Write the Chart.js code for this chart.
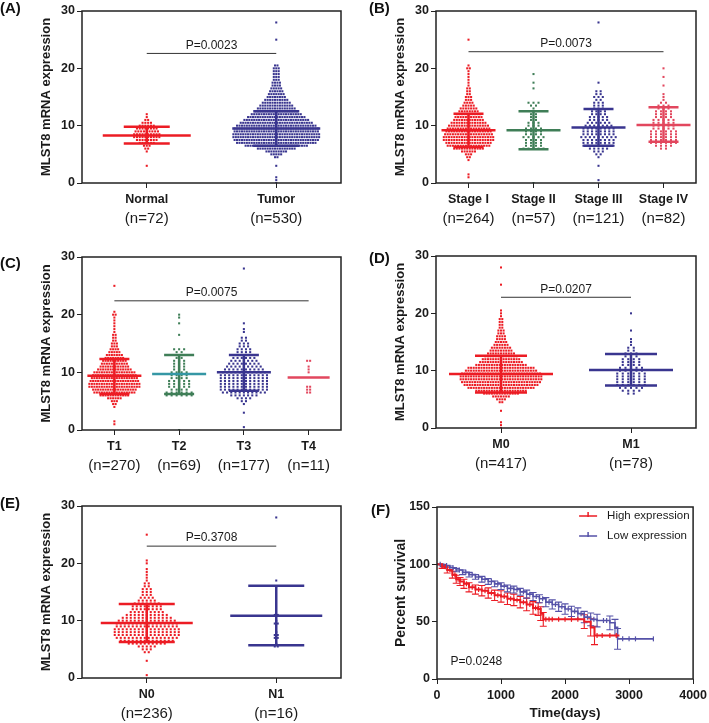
<!DOCTYPE html>
<html>
<head>
<meta charset="utf-8">
<script src="https://cdn.jsdelivr.net/npm/chart.js@4.4.1/dist/chart.umd.min.js"></script>
<style>
  body { margin: 0; background: #fff; }
  #fig { position: relative; width: 709px; height: 723px; overflow: hidden; background: #fff; }
  #fig canvas { position: absolute; }
  .tag { position: absolute; font: bold 15px "Liberation Sans", Arial, sans-serif; line-height: 1; color: #111; }
</style>
</head>
<body>
<div id="fig">
  <canvas id="chartA"></canvas>
  <canvas id="chartB"></canvas>
  <canvas id="chartC"></canvas>
  <canvas id="chartD"></canvas>
  <canvas id="chartE"></canvas>
  <canvas id="chartF"></canvas>
  <div class="tag" style="left:0px;top:0px">(A)</div>
  <div class="tag" style="left:369px;top:0px">(B)</div>
  <div class="tag" style="left:0px;top:255px">(C)</div>
  <div class="tag" style="left:369px;top:250px">(D)</div>
  <div class="tag" style="left:0px;top:495px">(E)</div>
  <div class="tag" style="left:371px;top:502px">(F)</div>
</div>
<script>
const yTitle = 'MLST8 mRNA expression';

// (A) normal vs tumor
const aGroups = ['Normal', 'Tumor'];
const aSizes = ['(n=72)', '(n=530)'];
const normalRows = [[3,1],[5.5,1],[6,2],[6.5,3],[7,6],[7.5,8],[8,10],[8.5,10],[9,9],[9.5,8],[10,6],[10.5,4],[11,2],[11.5,1],[12,1]];
const tumorRows = [[0,1],[0.5,1],[1,1],[3,1],[4.5,2],[5,5],[5.5,9],[6,16],[6.5,26],[7,33],[7.5,35],[8,36],[8.5,36],[9,35],[9.5,35],[10,33],[10.5,30],[11,27],[11.5,24],[12,21],[12.5,18],[13,16],[13.5,14],[14,12],[14.5,10],[15,8],[15.5,7],[16,6],[16.5,5],[17,4],[17.5,4],[18,3],[18.5,3],[19,3],[19.5,3],[20,3],[20.5,2],[25,1],[28,1]];
const aMean = [8.3, 9.5];
const aSdLow = [6.9, 6.5];
const aSdHigh = [9.8, 12.5];
const aP = 'P=0.0023';
const aBarY = 22.6;

// (B) stage
const bGroups = ['Stage I', 'Stage II', 'Stage III', 'Stage IV'];
const bSizes = ['(n=264)', '(n=57)', '(n=121)', '(n=82)'];
const stage1Rows = [[1,1],[1.5,1],[4,1],[4.5,2],[5,3],[5.5,6],[6,12],[6.5,17],[7,18],[7.5,20],[8,20],[8.5,19],[9,18],[9.5,17],[10,16],[10.5,14],[11,12],[11.5,11],[12,10],[12.5,8],[13,7],[13.5,5],[14,4],[14.5,3],[15,3],[15.5,2],[16,2],[16.5,2],[17,1],[17.5,1],[18,1],[18.5,1],[19,1],[19.5,1],[20,2],[20.5,1],[25,1]];
const stage2Rows = [[0,1],[6,5],[6.5,4],[7,4],[7.5,4],[8,5],[8.5,4],[9,4],[9.5,4],[10,3],[10.5,3],[11,2],[11.5,2],[12,2],[12.5,1],[13,1],[13.5,2],[14,3],[16.5,1],[17.5,1],[19,1]];
const stage3Rows = [[0.5,1],[3,1],[4.5,1],[5,2],[5.5,3],[6,5],[6.5,8],[7,8],[7.5,8],[8,9],[8.5,8],[9,8],[9.5,8],[10,7],[10.5,6],[11,5],[11.5,5],[12,4],[12.5,4],[13,3],[13.5,3],[14,3],[14.5,2],[15,3],[15.5,2],[16,2],[17.5,1],[28,1]];
const stage4Rows = [[6,2],[6.5,4],[7,6],[7.5,6],[8,6],[8.5,6],[9,6],[9.5,5],[10,5],[10.5,5],[11,5],[11.5,4],[12,4],[12.5,4],[13,3],[13.5,3],[14,2],[14.5,1],[15,1],[15.5,1],[17,1],[18.5,1],[20,1]];
const bMean = [9.2, 9.2, 9.7, 10.1];
const bSdLow = [6.3, 5.9, 6.5, 7.2];
const bSdHigh = [12.1, 12.5, 12.9, 13.2];
const bP = 'P=0.0073';
const bBarY = 22.9;

// (C) T stage
const cGroups = ['T1', 'T2', 'T3', 'T4'];
const cSizes = ['(n=270)', '(n=69)', '(n=177)', '(n=11)'];
const t1Rows = [[1,1],[1.5,1],[4,1],[4.5,2],[5,3],[5.5,6],[6,12],[6.5,17],[7,18],[7.5,21],[8,21],[8.5,20],[9,19],[9.5,18],[10,17],[10.5,14],[11,12],[11.5,11],[12,10],[12.5,8],[13,7],[13.5,5],[14,4],[14.5,3],[15,3],[15.5,2],[16,2],[16.5,2],[17,1],[17.5,1],[18,1],[18.5,1],[19,1],[19.5,1],[20,2],[20.5,1],[25,1]];
const t2Rows = [[0,1],[6,6],[6.5,6],[7,4],[7.5,5],[8,5],[8.5,5],[9,4],[9.5,4],[10,4],[10.5,3],[11,3],[11.5,3],[12,3],[12.5,2],[13,2],[13.5,2],[14,3],[16.5,1],[18.5,1],[19.5,1],[20,1]];
const t3Rows = [[0.5,1],[3,1],[4.5,1],[5,2],[5.5,4],[6,7],[6.5,11],[7,12],[7.5,12],[8,12],[8.5,12],[9,12],[9.5,12],[10,11],[10.5,10],[11,9],[11.5,8],[12,7],[12.5,6],[13,5],[13.5,4],[14,4],[14.5,3],[15,3],[15.5,2],[16,2],[17,1],[17.5,1],[18.5,1],[28,1]];
const t4Rows = [[6.5,2],[7,2],[7.5,2],[10,1],[10.5,1],[11,1],[12,2]];
const cMean = [9.4, 9.7, 10.0, 9.1];
const cSdLow = [6.25, 6.25, 6.8, null];
const cSdHigh = [12.3, 13.0, 13.0, null];
const cP = 'P=0.0075';
const cBarY = 22.4;

// (D) M stage
const dGroups = ['M0', 'M1'];
const dSizes = ['(n=417)', '(n=78)'];
const m0Rows = [[0,1],[0.5,1],[1,1],[3,1],[4.5,2],[5,4],[5.5,7],[6,14],[6.5,20],[7,26],[7.5,29],[8,31],[8.5,32],[9,32],[9.5,31],[10,28],[10.5,26],[11,20],[11.5,17],[12,15],[12.5,13],[13,11],[13.5,9],[14,8],[14.5,6],[15,5],[15.5,4],[16,4],[16.5,3],[17,3],[17.5,2],[18,2],[18.5,2],[19,2],[19.5,1],[20,1],[20.5,1],[25,1],[28,1]];
const m1Rows = [[6,2],[6.5,4],[7,5],[7.5,6],[8,6],[8.5,6],[9,6],[9.5,6],[10,5],[10.5,5],[11,4],[11.5,4],[12,4],[12.5,3],[13,3],[13.5,2],[14,2],[14.5,1],[15,1],[15.5,1],[17,1],[20,1]];
const dMean = [9.4, 10.1];
const dSdLow = [6.2, 7.4];
const dSdHigh = [12.6, 12.9];
const dP = 'P=0.0207';
const dBarY = 22.8;

// (E) N stage
const eGroups = ['N0', 'N1'];
const eSizes = ['(n=236)', '(n=16)'];
const n0Rows = [[0.5,1],[3,1],[4.5,2],[5,3],[5.5,5],[6,10],[6.5,14],[7,16],[7.5,17],[8,17],[8.5,17],[9,16],[9.5,16],[10,15],[10.5,13],[11,11],[11.5,9],[12,8],[12.5,8],[13,7],[13.5,5],[14,4],[14.5,3],[15,3],[15.5,3],[16,2],[16.5,2],[17,1],[17.5,1],[18,1],[18.5,1],[19,1],[20,1],[20.5,1],[25,1]];
const n1Rows = [[5.5,2],[6,1],[7,2],[7.5,2],[8,1],[9.5,2],[10,1],[11,2],[16,1],[17,1],[28,1]];
const eMean = [9.6, 10.85];
const eSdLow = [6.3, 5.7];
const eSdHigh = [12.9, 16.1];
const eP = 'P=0.3708';
const eBarY = 23.0;

// (F) Kaplan-Meier
const kmLabels = ['High expression', 'Low expression'];
const highTime = [0, 80, 160, 240, 300, 360, 420, 500, 600, 700, 800, 900, 1000, 1100, 1200, 1300, 1400, 1500, 1580, 1620, 1660, 2300, 2400, 2460, 2850];
const highSurv = [100, 98, 95, 91, 87, 85, 83, 80, 78, 77, 75, 73, 72, 70, 69, 67, 65, 62, 61, 57, 52, 50, 45, 38, 38];
const highErr = [0, 1.5, 2.5, 3, 3.5, 3.5, 4, 4, 4, 4.5, 4.5, 4.5, 5, 5, 5, 5, 5.5, 5.5, 5.5, 6, 6, 6, 7.5, 8, 0];
const highCensor = [130, 280, 330, 460, 550, 650, 750, 850, 950, 1050, 1150, 1250, 1350, 1450, 1540, 1700, 1750, 1800, 1900, 2000, 2100, 2200, 2500, 2580, 2700, 2800];
const lowTime = [0, 100, 200, 300, 400, 500, 600, 700, 800, 900, 1000, 1100, 1200, 1300, 1400, 1500, 1600, 1700, 1800, 1900, 2000, 2100, 2200, 2300, 2400, 2500, 2700, 2780, 2820, 3380];
const lowSurv = [100, 99, 97, 95, 93, 91, 89, 87, 85, 83, 81, 79, 78, 76, 74, 72, 70, 67, 65, 63, 61, 59, 57, 54, 52, 51, 49, 45, 35, 35];
const lowErr = [0, 1, 1.5, 1.5, 2, 2, 2, 2.5, 2.5, 2.5, 3, 3, 3, 3, 3.5, 3.5, 3.5, 4, 4, 4, 4.5, 4.5, 5, 5, 5.5, 5.5, 6, 7, 9, 0];
const lowCensor = [50, 150, 250, 350, 450, 550, 650, 750, 850, 950, 1050, 1150, 1250, 1350, 1450, 1550, 1650, 1750, 1850, 1950, 2050, 2150, 2250, 2350, 2450, 2600, 2650, 2900, 3000, 3100, 3380];
const fP = 'P=0.0248';

const RED = '#ec1c24', NAVY = '#39358f', GREEN = '#3f7e57', ROSE = '#e2475e', TEAL = '#3597a5';
const KM_RED = '#ec1c24', KM_BLUE = '#5552a8';
const FONT = '"Liberation Sans", Arial, sans-serif';
const INK = '#1a1a1a';

Chart.defaults.font.family = FONT;
Chart.defaults.color = INK;
Chart.defaults.animation = false;

// box round the plot area
const frame = {
  id: 'frame',
  afterDatasetsDraw(chart) {
    const a = chart.chartArea, c = chart.ctx;
    c.save();
    c.strokeStyle = '#222';
    c.lineWidth = 1.5;
    c.strokeRect(a.left, a.top, a.right - a.left, a.bottom - a.top);
    c.restore();
  }
};

// p value text, placed in data units
const pText = {
  id: 'pText',
  afterDatasetsDraw(chart, args, o) {
    const c = chart.ctx;
    c.save();
    c.font = '12px ' + FONT;
    c.fillStyle = INK;
    c.textAlign = o.align || 'center';
    c.textBaseline = 'middle';
    c.fillText(o.text, chart.scales.x.getPixelForValue(o.x), chart.scales.y.getPixelForValue(o.y) + (o.dy || 0));
    c.restore();
  }
};

function place(canvas, left, top, w, h) {
  canvas.width = w; canvas.height = h;
  canvas.style.left = left + 'px'; canvas.style.top = top + 'px';
  canvas.style.width = w + 'px'; canvas.style.height = h + 'px';
}

function dotPanel(id, cfg) {
  const n = cfg.groups.length;
  const unit = cfg.w / n;        // px per group
  const datasets = [];

  cfg.rows.forEach((rows, g) => {
    const step = cfg.dot[g] / unit;   // dot spacing in group units
    const pts = [];
    rows.forEach(([v, k]) => {
      for (let j = 0; j < k; j++) pts.push({ x: g + (j - (k - 1) / 2) * step, y: v });
    });
    datasets.push({ type: 'scatter', data: pts, pointStyle: 'rect', pointRadius: 1.45,
      pointBorderWidth: 0, backgroundColor: cfg.colors[g], order: 3 });

    const mh = (Array.isArray(cfg.meanHalf) ? cfg.meanHalf[g] : cfg.meanHalf) / unit;
    const ch = cfg.capHalf / unit;
    datasets.push({ type: 'line', data: [{ x: g - mh, y: cfg.mean[g] }, { x: g + mh, y: cfg.mean[g] }],
      borderColor: cfg.meanColors[g], borderWidth: 2.5, pointRadius: 0, order: 1 });
    if (cfg.sdLow[g] != null) {
      const lo = cfg.sdLow[g], hi = cfg.sdHigh[g];
      datasets.push({ type: 'line', spanGaps: false, pointRadius: 0, borderWidth: 2.5,
        borderColor: cfg.colors[g], order: 2,
        data: [{ x: g - ch, y: hi }, { x: g + ch, y: hi }, { x: g, y: null },
               { x: g, y: hi }, { x: g, y: lo }, { x: g, y: null },
               { x: g - ch, y: lo }, { x: g + ch, y: lo }] });
    }
  });

  // significance bar
  datasets.push({ type: 'line', data: [{ x: 0, y: cfg.barY }, { x: n - 1, y: cfg.barY }],
    borderColor: '#333', borderWidth: 1, pointRadius: 0, order: 0 });

  const canvas = document.getElementById(id);
  place(canvas, cfg.left - 82, cfg.top - 11, 82 + cfg.w + 14, 11 + cfg.h + 56);
  const catTicks = s => { s.ticks = cfg.groups.map((_, i) => ({ value: i })); };

  new Chart(canvas, {
    type: 'scatter',
    data: { datasets },
    options: {
      responsive: false,
      layout: { padding: { left: 0, top: 11, right: 14, bottom: 8 } },
      plugins: {
        legend: { display: false },
        tooltip: { enabled: false },
        pText: { text: cfg.p, x: (n - 1) / 2, y: cfg.barY, dy: -8 }
      },
      scales: {
        x: {
          type: 'linear', min: -0.5, max: n - 0.5, weight: 0,
          afterBuildTicks: catTicks,
          afterFit: s => { s.height = 24; },
          ticks: { callback: (v, i) => cfg.groups[i], font: { size: 12.5, weight: 'bold' },
                   color: INK, padding: 4, maxRotation: 0, autoSkip: false },
          grid: { drawOnChartArea: false, tickLength: 5, color: '#222' },
          border: { display: false }
        },
        x2: {
          type: 'linear', position: 'bottom', min: -0.5, max: n - 0.5, weight: 1,
          afterBuildTicks: catTicks,
          afterFit: s => { s.height = 24; },
          ticks: { callback: (v, i) => cfg.sizes[i], font: { size: 15 },
                   color: INK, padding: 3, maxRotation: 0, autoSkip: false },
          grid: { display: false, drawTicks: false, tickLength: 0 },
          border: { display: false }
        },
        y: {
          min: 0, max: 30,
          afterFit: s => { s.width = 82; },
          ticks: { stepSize: 10, font: { size: 12.5, weight: 'bold' }, color: INK, padding: 2 },
          grid: { drawOnChartArea: false, tickLength: 5, color: '#222' },
          border: { display: false },
          title: { display: true, text: yTitle, font: { size: 13, weight: 'bold' },
                   color: INK, padding: { top: 39, bottom: 0 } }
        }
      }
    },
    plugins: [frame, pText]
  });
}

dotPanel('chartA', { left: 82, top: 11, w: 259, h: 172, dot: [2.8, 2.45], meanHalf: 44, capHalf: 23,
  groups: aGroups, sizes: aSizes, rows: [normalRows, tumorRows],
  colors: [RED, NAVY], meanColors: [RED, NAVY],
  mean: aMean, sdLow: aSdLow, sdHigh: aSdHigh, p: aP, barY: aBarY });

dotPanel('chartB', { left: 436, top: 11, w: 260, h: 172, dot: [2.6, 5, 4.3, 5], meanHalf: 27, capHalf: 15,
  groups: bGroups, sizes: bSizes, rows: [stage1Rows, stage2Rows, stage3Rows, stage4Rows],
  colors: [RED, GREEN, NAVY, ROSE], meanColors: [RED, GREEN, NAVY, ROSE],
  mean: bMean, sdLow: bSdLow, sdHigh: bSdHigh, p: bP, barY: bBarY });

dotPanel('chartC', { left: 82, top: 257, w: 259, h: 173, dot: [2.5, 5, 4.2, 3], meanHalf: [27, 27, 27, 21], capHalf: 15,
  groups: cGroups, sizes: cSizes, rows: [t1Rows, t2Rows, t3Rows, t4Rows],
  colors: [RED, GREEN, NAVY, ROSE], meanColors: [RED, TEAL, NAVY, ROSE],
  mean: cMean, sdLow: cSdLow, sdHigh: cSdHigh, p: cP, barY: cBarY });

dotPanel('chartD', { left: 436, top: 256, w: 260, h: 172, dot: [2.6, 5.5], meanHalf: [52, 42], capHalf: 26,
  groups: dGroups, sizes: dSizes, rows: [m0Rows, m1Rows],
  colors: [RED, NAVY], meanColors: [RED, NAVY],
  mean: dMean, sdLow: dSdLow, sdHigh: dSdHigh, p: dP, barY: dBarY });

dotPanel('chartE', { left: 82, top: 506, w: 259, h: 172, dot: [4, 3], meanHalf: 46, capHalf: 28,
  groups: eGroups, sizes: eSizes, rows: [n0Rows, n1Rows],
  colors: [RED, NAVY], meanColors: [RED, NAVY],
  mean: eMean, sdLow: eSdLow, sdHigh: eSdHigh, p: eP, barY: eBarY });

// ---- (F) survival curves ----
// survival value of a step curve at time t (last step at or before t)
function survAt(times, surv, t) {
  let s = surv[0];
  times.forEach((tt, i) => { if (tt <= t) s = surv[i]; });
  return s;
}

const kmBars = {
  id: 'kmBars',
  beforeDatasetsDraw(chart) {
    const c = chart.ctx, x = chart.scales.x, y = chart.scales.y;
    [[highTime, highSurv, highErr, KM_RED], [lowTime, lowSurv, lowErr, KM_BLUE]].forEach(([t, s, e, col]) => {
      c.save();
      c.strokeStyle = col;
      c.lineWidth = 1.1;
      c.beginPath();
      t.forEach((tt, i) => {
        if (!e[i]) return;
        const px = x.getPixelForValue(tt);
        const y1 = y.getPixelForValue(s[i] + e[i]), y2 = y.getPixelForValue(s[i] - e[i]);
        c.moveTo(px, y1); c.lineTo(px, y2);
        c.moveTo(px - 3.5, y1); c.lineTo(px + 3.5, y1);
        c.moveTo(px - 3.5, y2); c.lineTo(px + 3.5, y2);
      });
      c.stroke();
      c.restore();
    });
  }
};

const kmLegend = {
  id: 'kmLegend',
  afterDatasetsDraw(chart) {
    const c = chart.ctx, a = chart.chartArea;
    c.save();
    c.font = '11.5px ' + FONT;
    c.textBaseline = 'middle';
    [KM_RED, KM_BLUE].forEach((col, i) => {
      const y = a.top + 9 + i * 20, x0 = a.right - 114;
      c.strokeStyle = col;
      c.lineWidth = 1.5;
      c.beginPath();
      c.moveTo(x0, y); c.lineTo(x0 + 18, y);
      c.moveTo(x0 + 9, y - 4); c.lineTo(x0 + 9, y + 1);
      c.stroke();
      c.fillStyle = INK;
      c.fillText(kmLabels[i], x0 + 28, y);
    });
    c.restore();
  }
};

const cF = document.getElementById('chartF');
place(cF, 437 - 82, 507 - 11, 82 + 258 + 16, 11 + 172 + 44);

new Chart(cF, {
  type: 'scatter',
  data: {
    datasets: [
      { type: 'line', label: kmLabels[0], stepped: true, data: highTime.map((t, i) => ({ x: t, y: highSurv[i] })),
        borderColor: KM_RED, borderWidth: 2, pointRadius: 0, order: 1 },
      { type: 'line', label: kmLabels[1], stepped: true, data: lowTime.map((t, i) => ({ x: t, y: lowSurv[i] })),
        borderColor: KM_BLUE, borderWidth: 1.6, pointRadius: 0, order: 2 },
      { type: 'scatter', data: highCensor.map(t => ({ x: t, y: survAt(highTime, highSurv, t) })),
        pointStyle: 'line', rotation: 90, pointRadius: 2.5, borderColor: KM_RED, borderWidth: 1.2, order: 0 },
      { type: 'scatter', data: lowCensor.map(t => ({ x: t, y: survAt(lowTime, lowSurv, t) })),
        pointStyle: 'line', rotation: 90, pointRadius: 2.5, borderColor: KM_BLUE, borderWidth: 1.2, order: 0 }
    ]
  },
  options: {
    responsive: false,
    layout: { padding: { left: 0, top: 11, right: 16, bottom: 0 } },
    plugins: {
      legend: { display: false },
      tooltip: { enabled: false },
      pText: { text: fP, x: 212, y: 15, align: 'left' }
    },
    scales: {
      x: {
        type: 'linear', min: 0, max: 4000,
        afterFit: s => { s.height = 44; },
        ticks: { stepSize: 1000, callback: v => String(v), font: { size: 12.5, weight: 'bold' },
                 color: INK, padding: 4, maxRotation: 0 },
        grid: { drawOnChartArea: false, tickLength: 5, color: '#222' },
        border: { display: false },
        title: { display: true, text: 'Time(days)', font: { size: 13.5, weight: 'bold' },
                 color: INK, padding: { top: 0, bottom: 2 } }
      },
      y: {
        min: 0, max: 150,
        afterFit: s => { s.width = 82; },
        ticks: { stepSize: 50, font: { size: 12.5, weight: 'bold' }, color: INK, padding: 2 },
        grid: { drawOnChartArea: false, tickLength: 5, color: '#222' },
        border: { display: false },
        title: { display: true, text: 'Percent survival', font: { size: 14, weight: 'bold' },
                 color: INK, padding: { top: 37.6, bottom: 0 } }
      }
    }
  },
  plugins: [kmBars, frame, pText, kmLegend]
});
</script>
</body>
</html>
